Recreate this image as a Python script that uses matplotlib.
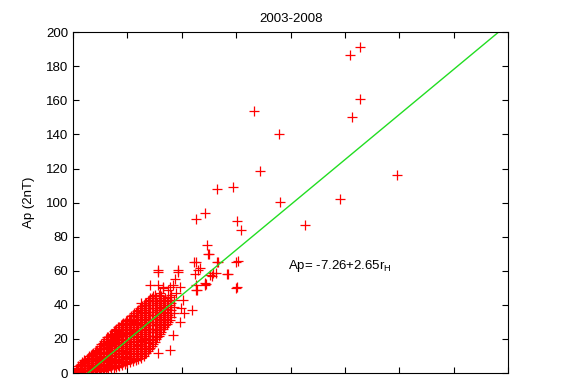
'''
Fun: Ap versus r_H scatter with linear fit, 2003-2008
'''

import matplotlib
matplotlib.use('Agg')
import matplotlib.pyplot as plt

## dense part of the cloud: one column of Ap values per r_H value
core_rh = [0.5, 1.0, 1.5, 2.0, 2.5, 3.0, 3.5, 4.0, 4.5, 5.0, 5.5, 6.0,
	6.5, 7.0, 7.5, 8.0, 8.5, 9.0, 9.5, 10.0, 10.5, 11.0, 11.5, 12.0,
	12.5, 13.0, 13.5, 14.0, 14.5, 15.0, 15.5, 16.0, 16.5, 17.0, 17.5, 18.0]
core_ap = [
	[0, 1, 2],
	[0, 1.5, 3, 4],
	[0, 2, 4, 5.5],
	[0, 2, 4, 6, 7.5],
	[0, 2, 4, 6, 8.5],
	[0, 2, 4, 6, 8, 10],
	[0, 2.5, 5, 7, 9, 11],
	[1, 3, 5, 7.5, 10, 12.5],
	[1, 3.5, 6, 8.5, 11, 13.5],
	[1, 4, 6.5, 9, 11.5, 14, 16],
	[1.5, 4, 7, 10, 12.5, 15, 17.5],
	[2, 5, 8, 11, 14, 17, 20],
	[2.5, 5.5, 8.5, 11.5, 14.5, 17.5, 21],
	[3, 6, 9, 12, 15, 18, 21, 23],
	[3, 6.5, 10, 13, 16, 19, 22, 24.5],
	[3.5, 7, 10, 13.5, 17, 20, 23, 26],
	[4, 7.5, 11, 14.5, 18, 21, 24, 27],
	[5, 8, 12, 15, 18.5, 22, 25, 28.5],
	[5.5, 9, 12.5, 16, 19.5, 23, 26, 29.5],
	[6, 9.5, 13, 17, 20, 24, 27, 31],
	[6.5, 10, 14, 18, 21.5, 25, 28.5, 32],
	[7, 11, 15, 19, 23, 26, 30, 34],
	[7.5, 12, 16, 20, 24, 28, 31, 35],
	[8, 12, 16.5, 21, 25, 29, 33, 37],
	[9, 13, 17, 22, 26, 30, 34, 38],
	[10, 14, 18, 23, 27, 31, 35, 40],
	[12, 16, 20, 24, 28, 32, 36, 41],
	[14, 18, 22, 26, 30, 34, 38, 43],
	[16, 20, 24, 28, 32, 36, 40, 44],
	[18, 22, 26, 30, 34, 38, 42, 46],
	[21, 25, 29, 33, 37, 41],
	[23, 27, 31, 35, 39, 43, 47],
	[26, 30, 34, 38, 42],
	[28, 32, 36, 40, 44],
	[30, 34, 39, 43],
	[33, 37, 41, 46],
]

## in-between columns of the dense cloud
core2_rh = [0.75, 1.25, 1.75, 2.25, 2.75, 3.25, 3.75, 4.25, 4.75, 5.25,
	5.75, 6.25, 6.75, 7.25, 7.75, 8.25, 8.75, 9.25, 9.75, 10.25, 10.75,
	11.25, 11.75, 12.25, 12.75, 13.25, 13.75, 14.25, 14.75, 15.25, 15.75,
	16.25, 16.75, 17.25, 17.75, 18.5]
core2_ap = [
	[0.5, 1.5, 2.5],
	[0.5, 2.5, 4.5],
	[1, 3, 5, 6.5],
	[1, 3, 5, 7],
	[1, 3, 5, 7, 9],
	[1, 3, 5, 7, 9, 10.5],
	[1, 3.5, 6, 8, 10, 12],
	[2, 4, 6, 8.5, 11, 13],
	[2, 4.5, 7, 9.5, 12, 14.5],
	[2.5, 5, 7.5, 10, 12.5, 15, 17],
	[3, 5.5, 8.5, 11.5, 14, 16.5, 19],
	[3.5, 6.5, 9.5, 12.5, 15.5, 18.5, 21],
	[4, 7, 10, 13, 16, 19, 22],
	[4.5, 7.5, 10.5, 13.5, 16.5, 19.5, 22.5],
	[5, 8, 11.5, 14.5, 17.5, 20.5, 23.5, 25.5],
	[5, 8.5, 12, 15, 18.5, 21.5, 24.5, 27],
	[6, 9.5, 13, 16, 19.5, 22.5, 25.5, 28],
	[6.5, 10, 13.5, 17, 20, 23.5, 27, 29.5],
	[7, 11, 14.5, 18, 21.5, 25, 28, 30.5],
	[8, 11.5, 15, 18.5, 22, 26, 29.5, 32],
	[8.5, 12, 16, 20, 23.5, 27, 30.5, 33.5],
	[9, 13, 17, 21, 24.5, 28, 32, 35],
	[10, 14, 18, 22, 26, 29.5, 33, 36.5],
	[10, 14.5, 19, 23, 27, 31, 35, 38],
	[11, 15, 19.5, 24, 28, 32, 36, 39.5],
	[12, 16, 20.5, 25, 29, 33, 37, 41],
	[13, 17.5, 22, 26, 30, 34, 38, 42.5],
	[15, 19.5, 24, 28, 32, 36, 40, 44],
	[17, 21.5, 26, 30, 34, 38, 42, 45.5],
	[20, 24, 28, 32, 36, 40, 44],
	[22, 26, 30, 34, 38, 42, 46],
	[24, 28.5, 33, 37, 41, 45],
	[27, 31, 35, 39, 43],
	[29, 33, 37.5, 42],
	[31, 35.5, 40, 44.5],
	[35, 39, 43],
]

## scattered points
sparse_rh = [12.6, 14.1, 15.6, 16.5, 17.5, 18.4, 19.0, 20.2, 19.6, 21.8,
	18.4, 17.8, 15.6, 20.5, 19.8, 19.3, 15.6, 22.7, 23.0, 24.5, 22.7, 25.1,
	24.3, 22.8, 25.8, 28.5, 30.0, 30.0, 26.5, 23.4, 22.3, 25.0, 15.7, 19.4,
	22.4, 26.2, 28.4, 25.6, 18.8, 22.6, 24.3, 30.2, 16.6, 17.8, 19.7, 30.3,
	26.7, 24.9, 24.7, 30.9, 42.7, 22.7, 30.2, 24.3, 49.1, 38.1, 29.5, 26.5,
	34.4, 59.5, 37.9, 33.3, 51.2, 52.8, 50.9, 52.8]
sparse_ap = [41.2, 51.6, 51.6, 50, 49, 51.6, 47, 42.8, 30, 37,
	22.3, 13.5, 11.5, 35, 38, 59.4, 59.4, 65.3, 60.4, 52.5, 48.7, 57.5,
	53, 48.7, 58.6, 58, 50, 65, 65, 61.5, 65, 70, 60.2, 60.2,
	58.4, 59, 57.9, 56.7, 55, 51.6, 51.6, 50.6, 50.3, 50.3, 50.3, 65.9,
	65.3, 69.8, 75.3, 83.7, 86.8, 90.5, 89.5, 94, 102, 100.5, 109, 108,
	118.5, 116, 140, 154, 150, 161, 186.5, 191]

## linear fit Ap = a + b*rH
fit_a = -7.26
fit_b = 2.65
fit_rh = [0, 80]


def main():
	rh = []
	ap = []
	for xs, cols in ((core_rh, core_ap), (core2_rh, core2_ap)):
		for x, col in zip(xs, cols):
			for v in col:
				rh.append(x)
				ap.append(v)
	rh += sparse_rh
	ap += sparse_ap

	plt.rcParams['font.family'] = ['Liberation Sans', 'DejaVu Sans']
	fig = plt.figure(figsize=(5.61, 3.78), dpi=100)
	ax = fig.add_axes([0.130, 0.013, 0.776, 0.902])

	ax.plot(rh, ap, '+', color='red', markersize=7.5, markeredgewidth=0.9, linestyle='none')
	fit_ap = [fit_a + fit_b * x for x in fit_rh]
	ax.plot(fit_rh, fit_ap, color='#22dd22', lw=1.0)

	ax.set_xlim(0, 80)
	ax.set_ylim(0, 200)
	ax.set_xticks(range(0, 81, 10))
	ax.set_yticks(range(0, 201, 20))
	ax.tick_params(direction='in', top=True, right=True, length=4, labelsize=9.5)
	ax.tick_params(axis='x', labelbottom=False)  # labels fall below the picture
	for s in ax.spines.values():
		s.set_linewidth(0.8)

	ax.set_ylabel('Ap (2nT)', fontsize=9.5, labelpad=8)
	ax.set_title('2003-2008', fontsize=9.5, pad=7)
	ax.text(39.5, 63, r'Ap= -7.26+2.65r$_\mathregular{H}$', fontsize=9.5, va='center')

	fig.savefig('out.png', dpi=100)


if __name__ == '__main__':
	main()
